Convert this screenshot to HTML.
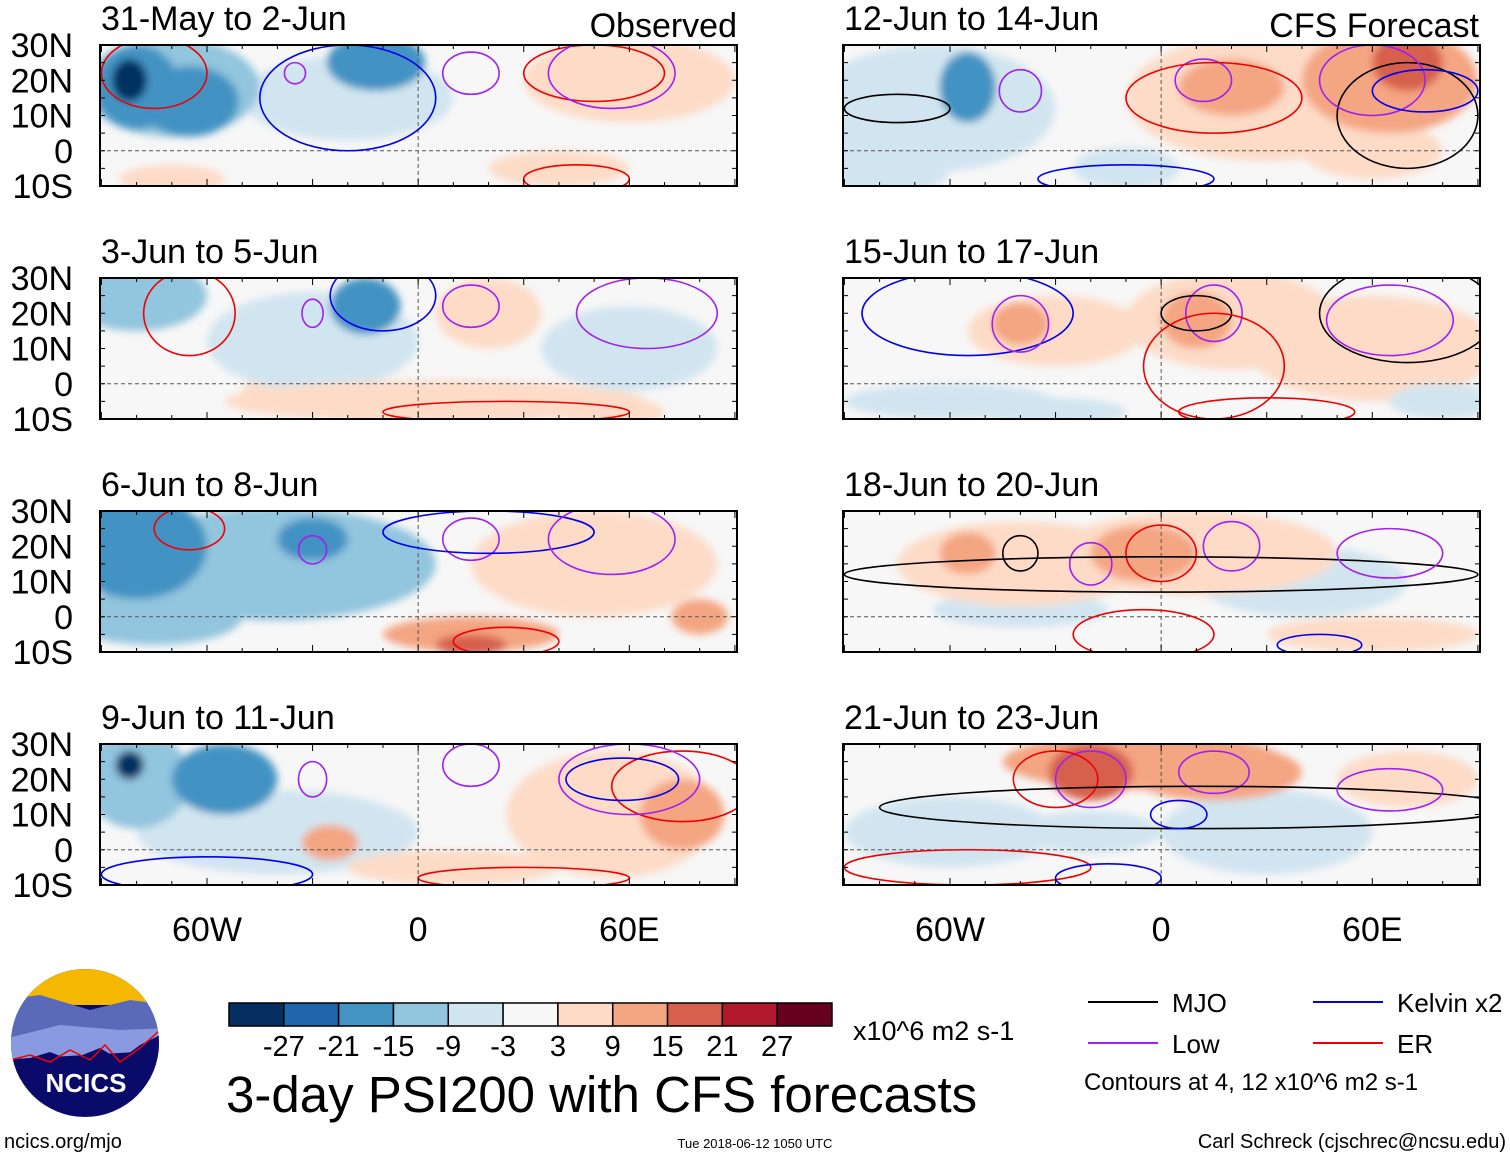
<!DOCTYPE html>
<html><head><meta charset="utf-8"><style>
body{margin:0;background:#fff;width:1510px;height:1158px;overflow:hidden;font-family:"Liberation Sans",sans-serif}
svg text{font-family:"Liberation Sans",sans-serif}
</style></head><body>
<svg id="fig" width="1510" height="1158" xmlns="http://www.w3.org/2000/svg">
<defs>
<filter id="bl" x="-50%" y="-50%" width="200%" height="200%"><feGaussianBlur stdDeviation="4"/></filter>
<clipPath id="cl"><rect x="0" y="0" width="637" height="141"/></clipPath>
</defs>
</svg>
<script>
const titles=["31-May to 2-Jun","3-Jun to 5-Jun","6-Jun to 8-Jun","9-Jun to 11-Jun","12-Jun to 14-Jun","15-Jun to 17-Jun","18-Jun to 20-Jun","21-Jun to 23-Jun"];
const levels=[-27,-21,-15,-9,-3,3,9,15,21,27];
const colors=["#053061","#2166ac","#4393c3","#92c5de","#d1e5f0","#f7f7f7","#fddbc7","#f4a582","#d6604d","#b2182b","#67001f"];
// anomaly blobs per panel: [lon, lat, rxDeg, ryDeg, value]
const blobs=[
[[-70,18,25,14,-12],[-20,15,30,12,-6],[-80,18,12,12,-20],[-65,14,14,10,-20],[-82,20,5,6,-28],[-12,25,14,8,-16],[60,20,30,12,6],[40,-5,20,5,6],[-70,-8,15,4,5]],
[[-80,25,20,10,-10],[-30,12,30,14,-6],[-15,22,10,8,-16],[5,-5,60,6,6],[20,20,15,10,7],[60,10,25,12,-6],[-30,-2,20,5,5],[55,-8,15,4,7]],
[[-80,20,20,15,-16],[-40,15,45,16,-10],[-30,22,10,6,-16],[-75,0,25,8,-10],[50,15,35,15,6],[15,-5,25,5,10],[15,-8,10,3,17],[80,0,8,5,10]],
[[-80,20,15,14,-14],[-55,20,15,10,-16],[-82,24,4,4,-28],[-40,5,40,12,-6],[-25,2,8,5,10],[55,10,30,18,8],[75,10,12,10,14],[10,-5,30,5,6]],
[[-65,12,35,18,-7],[-55,18,8,10,-16],[-80,-5,20,8,-6],[30,15,40,18,8],[65,20,25,15,10],[70,25,10,8,17],[20,18,15,8,12],[60,0,20,8,8],[-10,-5,15,6,-6]],
[[-30,15,25,10,6],[-40,17,8,6,10],[20,18,30,14,6],[10,18,10,8,10],[60,10,35,15,5],[-60,-5,30,5,-6],[-30,-8,20,4,-7],[80,-5,15,5,-5]],
[[-40,15,35,12,6],[-55,18,8,6,10],[10,18,40,12,7],[-5,18,15,8,12],[40,10,30,10,-5],[-40,2,25,5,-5],[60,-5,30,5,4]],
[[-5,25,40,8,10],[-20,22,12,8,17],[15,22,25,8,10],[-60,5,30,10,-6],[30,5,30,12,-5],[70,20,20,8,5],[-20,5,20,6,-5]]
];
// contours: [lon, lat, rxDeg, ryDeg, kind]
const contours=[
[[-75,22,15,10,"er"],[-20,15,25,15,"kelvin"],[-35,22,3,3,"low"],[15,22,8,6,"low"],[50,22,20,8,"er"],[55,22,18,10,"low"],[45,-8,15,4,"er"]],
[[-65,20,13,12,"er"],[-30,20,3,4,"low"],[15,22,8,6,"low"],[65,20,20,10,"low"],[-10,25,15,10,"kelvin"],[25,-8,35,3,"er"]],
[[-65,25,10,6,"er"],[-30,19,4,4,"low"],[15,22,8,6,"low"],[20,24,30,6,"kelvin"],[55,22,18,10,"low"],[25,-7,15,4,"er"]],
[[-30,20,4,5,"low"],[15,24,8,6,"low"],[75,18,20,10,"er"],[60,20,20,10,"low"],[58,20,16,6,"kelvin"],[-60,-7,30,5,"kelvin"],[30,-8,30,3,"er"]],
[[-75,12,15,4,"mjo"],[-40,17,6,6,"low"],[12,20,8,6,"low"],[15,15,25,10,"er"],[70,10,20,15,"mjo"],[60,20,15,10,"low"],[75,17,15,6,"kelvin"],[-10,-8,25,4,"kelvin"]],
[[-55,20,30,12,"kelvin"],[-40,17,8,8,"low"],[15,20,8,8,"low"],[10,20,10,5,"mjo"],[65,18,18,10,"low"],[70,20,25,14,"mjo"],[15,5,20,15,"er"],[30,-8,25,4,"er"]],
[[-40,18,5,5,"mjo"],[-20,15,6,6,"low"],[20,20,8,7,"low"],[0,18,10,8,"er"],[0,12,90,5,"mjo"],[65,18,15,7,"low"],[-5,-5,20,7,"er"],[45,-8,12,3,"kelvin"]],
[[-20,20,10,8,"low"],[15,22,10,6,"low"],[-30,20,12,8,"er"],[10,12,90,6,"mjo"],[5,10,8,4,"kelvin"],[65,17,15,6,"low"],[-55,-5,35,5,"er"],[-15,-8,15,4,"kelvin"]]
];
const kindColor={mjo:"#000",low:"#a020f0",kelvin:"#0000ee",er:"#ee0000"};
const S="http://www.w3.org/2000/svg";
const fig=document.getElementById('fig');
function mk(t,a,p){const e=document.createElementNS(S,t);for(const k in a)e.setAttribute(k,a[k]);(p||fig).appendChild(e);return e;}
const PW=637,PH=141;
const xs=lon=>(lon+90.4)*PW/181;
const ys=lat=>(30-lat)*PH/40;
function colorFor(v){let i=0;while(i<levels.length&&v>levels[i])i++;return colors[i];}
const panelX=[100,100,100,100,843,843,843,843],panelY=[45,278,511,744,45,278,511,744];
for(let p=0;p<8;p++){
 const g=mk('g',{transform:`translate(${panelX[p]},${panelY[p]})`});
 
 
 const inner=mk('g',{'clip-path':'url(#cl)'},g);
 mk('rect',{x:0,y:0,width:PW,height:PH,fill:'#f7f7f7'},inner);
 const bg=mk('g',{filter:'url(#bl)'},inner);
 const sorted=blobs[p].slice().sort((a,b)=>Math.abs(a[4])-Math.abs(b[4]));
 for(const b of sorted){
  const e=mk('ellipse',{cx:xs(b[0]),cy:ys(b[1]),rx:b[2]*PW/181,ry:b[3]*PH/40,fill:colorFor(b[4])},bg);
  
  
 }
 mk('line',{x1:0,x2:PW,y1:ys(0),y2:ys(0),stroke:'#555','stroke-dasharray':'4,3','stroke-width':1},inner);
 mk('line',{x1:xs(0),x2:xs(0),y1:0,y2:PH,stroke:'#555','stroke-dasharray':'4,3','stroke-width':1},inner);
 for(const c of contours[p]){
  const e=mk('ellipse',{cx:xs(c[0]),cy:ys(c[1]),rx:c[2]*PW/181,ry:c[3]*PH/40,fill:'none',stroke:kindColor[c[4]],'stroke-width':1.6},inner);
  
  
 }
 mk('rect',{x:0,y:0,width:PW,height:PH,fill:'none',stroke:'#000','stroke-width':2},g);
 for(let lon=-90;lon<=90;lon+=10){const x=xs(lon),L=lon%30==0?7:4;
  mk('line',{x1:x,x2:x,y1:0,y2:L,stroke:'#000'},g);mk('line',{x1:x,x2:x,y1:PH,y2:PH-L,stroke:'#000'},g);}
 for(let lat=-10;lat<=30;lat+=5){const y=ys(lat);
  mk('line',{x1:0,x2:5,y1:y,y2:y,stroke:'#000'},g);mk('line',{x1:PW,x2:PW-5,y1:y,y2:y,stroke:'#000'},g);}
 const t=mk('text',{x:1,y:-15,'font-size':34},g);t.textContent=titles[p];
 
 if(p<4){["30N","20N","10N","0","10S"].forEach((s,i)=>{const tt=mk('text',{x:-27,y:ys(30-10*i)+12,'font-size':34,'text-anchor':'end'},g);tt.textContent=s;
  });}
}
[[737,"Observed"],[1479,"CFS Forecast"]].forEach(([x,s])=>{const t=mk('text',{x:x,y:37,'font-size':34,'text-anchor':'end'});t.textContent=s;
 });
[100,843].forEach(px=>{[[-60,"60W"],[0,"0"],[60,"60E"]].forEach(([l,s])=>{const t=mk('text',{x:px+xs(l),y:941,'font-size':34,'text-anchor':'middle'});t.textContent=s;
 });});
// colorbar
const cb=mk('g',{});
const bw=603/11;
colors.forEach((c,i)=>mk('rect',{x:229+i*bw,y:1003,width:bw,height:23,fill:c,stroke:'#000','stroke-width':1.5},cb));
levels.forEach((l,i)=>{const t=mk('text',{x:229+(i+1)*bw,y:1056,'font-size':29,'text-anchor':'middle'},cb);t.textContent=l;});
const u=mk('text',{x:853,y:1040,'font-size':27});u.textContent="x10^6 m2 s-1";
const ti=mk('text',{x:226,y:1112,'font-size':51});ti.textContent="3-day PSI200 with CFS forecasts";
// legend
[[1088,1002,"#000","MJO"],[1088,1043,"#a020f0","Low"],[1313,1002,"#0000ee","Kelvin x2"],[1313,1043,"#ee0000","ER"]].forEach(([x,y,c,s])=>{
 mk('line',{x1:x,x2:x+70,y1:y,y2:y,stroke:c,'stroke-width':2});
 const t=mk('text',{x:x+84,y:y+10,'font-size':26});t.textContent=s;});
const ct=mk('text',{x:1084,y:1090,'font-size':24});ct.textContent="Contours at 4, 12 x10^6 m2 s-1";
// footer
const f1=mk('text',{x:4,y:1148,'font-size':20});f1.textContent="ncics.org/mjo";
const f2=mk('text',{x:755,y:1148,'font-size':13,'text-anchor':'middle'});f2.textContent="Tue 2018-06-12 1050 UTC";
const f3=mk('text',{x:1506,y:1148,'font-size':20,'text-anchor':'end'});f3.textContent="Carl Schreck (cjschrec@ncsu.edu)";
// logo
const lg=mk('g',{});
mk('clipPath',{id:'lc'},lg).appendChild((()=>{const c=document.createElementNS(S,'circle');c.setAttribute('cx',85);c.setAttribute('cy',1043);c.setAttribute('r',74);return c;})());
const li=mk('g',{'clip-path':'url(#lc)'},lg);
mk('rect',{x:0,y:960,width:170,height:170,fill:'#0a0a6a'},li);
mk('rect',{x:0,y:960,width:170,height:45,fill:'#f5b800'},li);
mk('path',{d:'M0,1000 L40,995 L90,1010 L130,1000 L170,1005 L170,1030 L0,1040Z',fill:'#5a6ab8'},li);
mk('path',{d:'M0,1040 L60,1025 L120,1030 L170,1028 L170,1050 L0,1060Z',fill:'#8a9ae0'},li);
mk('path',{d:'M0,1060 L30,1058 L50,1052 L70,1060 L100,1048 L120,1060 L140,1045 L170,1030 L170,1080 L0,1080Z',fill:'#0a0a6a'},li);
mk('path',{d:'M10,1060 L30,1055 L50,1062 L70,1050 L90,1060 L105,1045 L120,1062 L140,1048 L160,1030',fill:'none',stroke:'#e00','stroke-width':1.5},li);
const lt=mk('text',{x:86,y:1092,'font-size':26,'font-weight':'bold','text-anchor':'middle',fill:'#fff'},lg);lt.textContent="NCICS";
</script>
</body></html>
